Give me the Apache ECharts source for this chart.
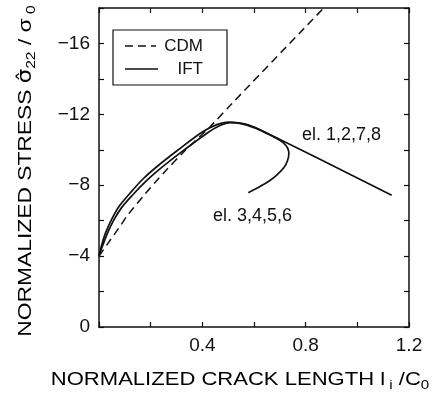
<!DOCTYPE html>
<html><head><meta charset="utf-8">
<script src="https://cdn.jsdelivr.net/npm/echarts@6/dist/echarts.min.js"></script>
<style>html,body{margin:0;padding:0;background:#fff}#c{width:439px;height:398px}</style>
</head><body><div id="c"></div>
<script>
// ---- data ----
const xTickLabels = ['0.4', '0.8', '1.2'];
const yTickLabels = ['0', '−4', '−8', '−12', '−16'];
const legendNames = ['CDM', 'IFT'];
const curveLabels = ['el. 1,2,7,8', 'el. 3,4,5,6'];

const cdm = [[0, -4.0], [0.036, -4.75], [0.075, -5.55], [0.113, -6.35], [0.178, -7.5], [0.223, -8.25],
  [0.26, -8.85], [0.326, -9.85], [0.365, -10.4], [0.43, -11.3], [0.514, -12.6], [0.87, -18.0]];

const ift1278 = [[0, -4.0], [0.01, -4.6], [0.025, -5.3], [0.05, -6.1], [0.08, -6.85], [0.12, -7.55],
  [0.17, -8.35], [0.22, -9.0], [0.307, -10.0], [0.4, -11.0], [0.456, -11.42], [0.5, -11.56],
  [0.54, -11.52], [0.58, -11.4], [0.636, -11.05], [1.133, -7.44]];

const ift3456 = [[0, -4.0], [0.012, -4.5], [0.03, -5.2], [0.056, -6.0], [0.088, -6.75], [0.13, -7.45],
  [0.18, -8.2], [0.23, -8.85], [0.317, -9.85], [0.41, -10.85], [0.466, -11.35], [0.51, -11.53],
  [0.55, -11.48], [0.6, -11.25], [0.65, -10.92], [0.69, -10.62], [0.715, -10.38], [0.73, -10.1],
  [0.735, -9.8], [0.73, -9.4], [0.716, -9.0], [0.69, -8.6], [0.66, -8.25], [0.62, -7.9], [0.578, -7.58]];

// ---- chart ----
const ink = '#111';
const font = '"Liberation Sans", Arial, sans-serif';
const chart = echarts.init(document.getElementById('c'), null, {renderer: 'canvas'});

const xFmt = v => { const s = (Math.round(v * 10) / 10).toFixed(1); return xTickLabels.includes(s) ? s : ''; };
const yFmt = v => { const r = Math.round(v); const s = r === 0 ? '0' : '−' + Math.abs(r); return yTickLabels.includes(s) ? s : ''; };

const axisCommon = {
  axisLine: {show: true, onZero: false, lineStyle: {color: ink, width: 1.5}},
  axisTick: {show: true, inside: true, length: 5, lineStyle: {color: ink, width: 1.2}},
  splitLine: {show: false}
};

chart.setOption({
  animation: false,
  backgroundColor: '#fff',
  grid: {left: 99, top: 8, right: 30, bottom: 71, containLabel: false},
  xAxis: [
    Object.assign({type: 'value', min: 0, max: 1.2, interval: 0.2, position: 'bottom',
      axisLabel: {formatter: xFmt, margin: 9, color: ink, fontSize: 19, fontFamily: font, showMaxLabel: true, showMinLabel: true}}, axisCommon),
    Object.assign({type: 'value', min: 0, max: 1.2, interval: 0.2, position: 'top', axisLabel: {show: false}}, axisCommon)
  ],
  yAxis: [
    Object.assign({type: 'value', min: -18, max: 0, interval: 2, inverse: true, position: 'left',
      axisLabel: {formatter: yFmt, margin: 9, color: ink, fontSize: 19, fontFamily: font, showMaxLabel: true, showMinLabel: true}}, axisCommon),
    Object.assign({type: 'value', min: -18, max: 0, interval: 2, inverse: true, position: 'right', axisLabel: {show: false}}, axisCommon)
  ],
  series: [
    {name: legendNames[0], type: 'line', data: cdm, symbol: 'none', smooth: 0.3, clip: true,
      lineStyle: {color: ink, width: 1.5, type: [8, 5]}},
    {name: legendNames[1], type: 'line', data: ift1278, symbol: 'none', smooth: 0.3, clip: true,
      lineStyle: {color: ink, width: 1.7}},
    {name: legendNames[1], type: 'line', data: ift3456, symbol: 'none', smooth: 0.3, clip: true,
      lineStyle: {color: ink, width: 1.7}}
  ],
  graphic: [
    {type: 'rect', shape: {x: 113, y: 30, width: 114, height: 55}, style: {fill: '#fff', stroke: ink, lineWidth: 1.2}, z: 10},
    {type: 'line', shape: {x1: 125, y1: 46, x2: 156, y2: 46}, style: {stroke: ink, lineWidth: 1.5, lineDash: [8, 5]}, z: 11},
    {type: 'line', shape: {x1: 125, y1: 69, x2: 158, y2: 69}, style: {stroke: ink, lineWidth: 1.6}, z: 11},
    {type: 'text', x: 203, y: 46, z: 11, style: {text: legendNames[0], font: '17px ' + font, fill: ink, textAlign: 'right', align: 'right', textVerticalAlign: 'middle', verticalAlign: 'middle'}},
    {type: 'text', x: 203, y: 69, z: 11, style: {text: legendNames[1], font: '17px ' + font, fill: ink, textAlign: 'right', align: 'right', textVerticalAlign: 'middle', verticalAlign: 'middle'}},
    {type: 'text', x: 302, y: 135, z: 11, style: {text: curveLabels[0], font: '18px ' + font, fill: ink, textAlign: 'left', align: 'left', textVerticalAlign: 'middle', verticalAlign: 'middle'}},
    {type: 'text', x: 213, y: 216, z: 11, style: {text: curveLabels[1], font: '18px ' + font, fill: ink, textAlign: 'left', align: 'left', textVerticalAlign: 'middle', verticalAlign: 'middle'}},
    {type: 'text', x: 240, y: 380, scaleX: 1.16, z: 11, style: {
      text: '{m|NORMALIZED CRACK LENGTH l}{s| i}{m| /C}{s|0}',
      textAlign: 'center', align: 'center', textVerticalAlign: 'middle', verticalAlign: 'middle',
      rich: {m: {fontSize: 19, fontFamily: font, color: ink, lineHeight: 20},
             s: {fontSize: 13, fontFamily: font, color: ink, lineHeight: 14, padding: [10, 0, 0, 0]}}}},
    {type: 'text', x: 26, y: 171, rotation: Math.PI / 2, scaleX: 1.2, z: 11, style: {
      text: '{m|NORMALIZED STRESS }{g|σ̂}{s|22}{m| / σ}{s| 0}',
      textAlign: 'center', align: 'center', textVerticalAlign: 'middle', verticalAlign: 'middle',
      rich: {m: {fontSize: 19, fontFamily: font, color: ink, lineHeight: 20},
             g: {fontSize: 19, fontFamily: '"DejaVu Sans", sans-serif', color: ink, lineHeight: 20},
             s: {fontSize: 13, fontFamily: font, color: ink, lineHeight: 14, padding: [10, 0, 0, 0]}}}}
  ]
});
</script></body></html>
